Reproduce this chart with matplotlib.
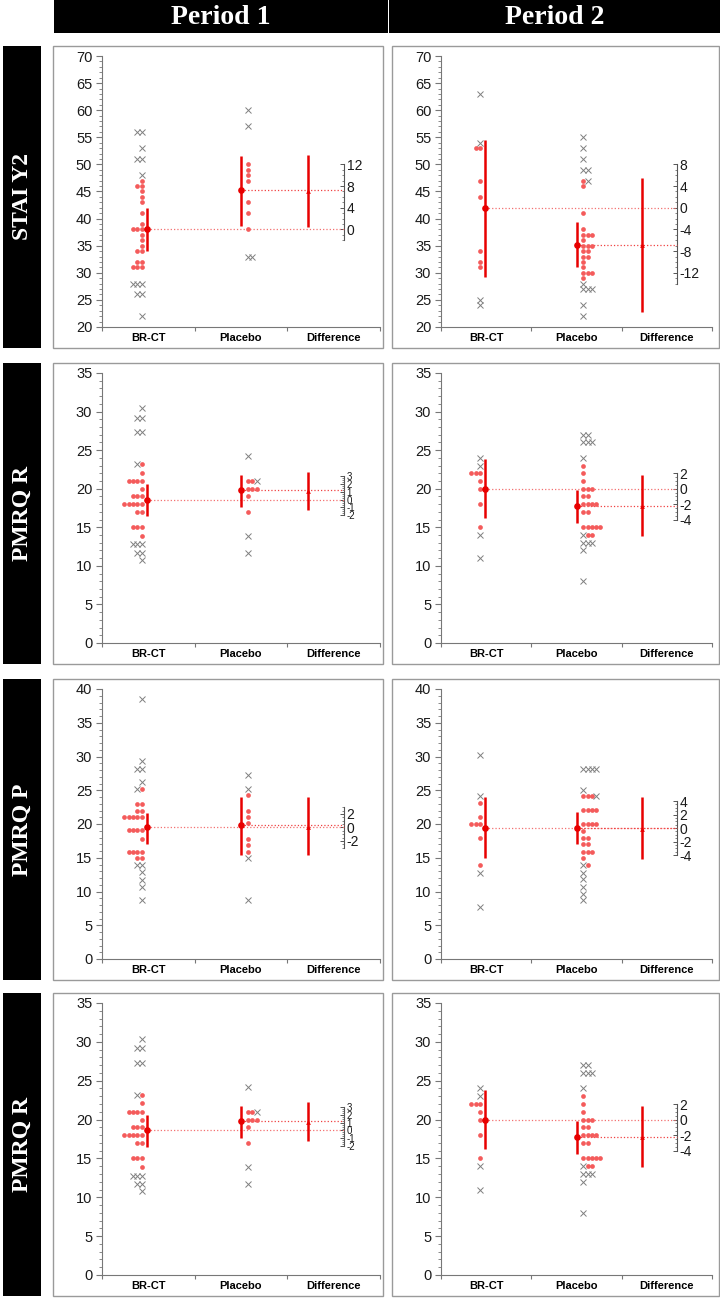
import numpy as np
import matplotlib
matplotlib.use("Agg")
import matplotlib.pyplot as plt
from matplotlib.patches import Rectangle
from matplotlib.ticker import MultipleLocator, FixedLocator, NullFormatter

plt.rcParams['font.family'] = ['Liberation Sans', 'DejaVu Sans']
plt.rcParams['axes.unicode_minus'] = False

# ---- data ----
periods = ["Period 1", "Period 2"]
measures = ["STAI Y2", "PMRQ R", "PMRQ P", "PMRQ R"]
categories = ["BR-CT", "Placebo", "Difference"]

# o = red dot, x = grey cross (same value -> stacked side by side)
stai_p1_brct = [56, 56, 53, 51, 51, 48, 47, 46, 46, 45, 44, 43, 41, 39, 38, 38, 38, 37, 36, 35,
                34, 34, 32, 32, 31, 31, 31, 28, 28, 28, 26, 26, 22]
stai_p1_brct_kind = "xxxxxx" + "o" * 21 + "xxxxxx"
stai_p1_pbo = [60, 57, 50, 49, 48, 47, 43, 41, 38, 33, 33]
stai_p1_pbo_kind = "xxoooooooxx"
stai_p1_mean = [38.0, 45.2, 7.0]
stai_p1_lo = [34.0, 38.6, 0.4]
stai_p1_hi = [41.9, 51.6, 13.8]

stai_p2_brct = [63, 54, 53, 53, 47, 44, 34, 32, 31, 25, 24]
stai_p2_brct_kind = "xxoooooooxx"
stai_p2_pbo = [55, 53, 51, 49, 49, 47, 47, 46, 41, 38, 37, 37, 37, 36, 35, 35, 35, 34, 34, 33, 33,
               32, 31, 30, 30, 30, 29, 28, 27, 27, 27, 24, 22]
stai_p2_pbo_kind = "xxxxxox" + "o" * 20 + "xxxxxx"
stai_p2_mean = [42.0, 35.2, -6.9]
stai_p2_lo = [29.3, 31.0, -19.2]
stai_p2_hi = [54.5, 39.3, 5.5]

pmrqr_p1_brct = [30.4, 29.2, 29.2, 27.3, 27.3, 23.2, 23.2, 22.1, 21, 21, 21, 21, 20, 19, 19, 19,
                 18, 18, 18, 18, 18, 17, 17, 15, 15, 15, 13.9, 12.8, 12.8, 12.8, 11.7, 11.7, 10.8]
pmrqr_p1_brct_kind = "xxxxxox" + "o" * 20 + "xxxxxx"
pmrqr_p1_pbo = [24.2, 21, 21, 21, 20, 20, 20, 19.1, 17, 13.9, 11.7]
pmrqr_p1_pbo_kind = "xooxoooooxx"
pmrqr_p1_mean = [18.6, 19.8, 1.1]
pmrqr_p1_lo = [16.5, 17.65, -1.4]
pmrqr_p1_hi = [20.6, 21.8, 3.6]

pmrqr_p2_brct = [24, 23, 22, 22, 22, 21, 20, 18, 15, 14, 11]
pmrqr_p2_brct_kind = "xxoooooooxx"
pmrqr_p2_pbo = [27, 27, 26, 26, 26, 24, 23, 22, 21, 20, 20, 20, 19, 19, 18, 18, 18, 18, 17, 17,
                15, 15, 15, 15, 15, 14, 14, 14, 13, 13, 13, 12, 8]
pmrqr_p2_pbo_kind = "xxxxxx" + "o" * 19 + "xoo" + "xxxxx"
pmrqr_p2_mean = [20.0, 17.8, -2.3]
pmrqr_p2_lo = [16.2, 15.6, -6.1]
pmrqr_p2_hi = [23.8, 19.8, 1.75]

pmrqp_p1_brct = [38.5, 29.4, 28.2, 28.2, 26.2, 25.2, 25.2, 22.9, 22.9, 22, 22, 21.1, 21.1, 21.1,
                 21.1, 21.1, 19.1, 19.1, 19.1, 19.1, 17.8, 15.9, 15.9, 15.9, 15.9, 14.9, 14.9,
                 13.9, 13.9, 12.9, 11.7, 10.6, 8.7]
pmrqp_p1_brct_kind = "xxxxxox" + "o" * 20 + "xxxxxx"
pmrqp_p1_pbo = [27.2, 25.2, 24.3, 22, 21.1, 20.1, 17.8, 16.9, 15.9, 14.9, 8.7]
pmrqp_p1_pbo_kind = "xxoooooooxx"
pmrqp_p1_mean = [19.5, 19.8, 0.1]
pmrqp_p1_lo = [17.1, 15.45, -4.05]
pmrqp_p1_hi = [21.7, 24.0, 4.5]

pmrqp_p2_brct = [30.2, 24.1, 23.1, 21, 20, 20, 20, 18, 13.9, 12.8, 7.7]
pmrqp_p2_brct_kind = "xxoooooooxx"
pmrqp_p2_pbo = [28.2, 28.2, 28.2, 28.2, 25.1, 24.1, 24.1, 24.1, 24.1, 22.1, 22.1, 22.1, 22.1,
                20, 20, 20, 20, 19, 18, 18, 17, 17, 15.8, 15.8, 15.8, 14.9, 13.9, 13.9,
                12.8, 11.9, 10.7, 9.7, 8.7]
pmrqp_p2_pbo_kind = "xxxxx" + "ooox" + "o" * 17 + "xo" + "xxxxx"
pmrqp_p2_mean = [19.4, 19.4, -0.2]
pmrqp_p2_lo = [14.9, 17.0, -4.6]
pmrqp_p2_hi = [24.0, 21.75, 4.6]

# y range of each row, and the difference-axis ticks of each panel
row_ylim = [(20, 70), (0, 35), (0, 40), (0, 35)]
diff_ticks = [[[0, 4, 8, 12], [-12, -8, -4, 0, 4, 8]],
              [[-2, -1, 0, 1, 2, 3], [-4, -2, 0, 2]],
              [[-2, 0, 2], [-4, -2, 0, 2, 4]],
              [[-2, -1, 0, 1, 2, 3], [-4, -2, 0, 2]]]
diff_span = [[(-2, 12), (-14, 8)], [(-2, 3), (-4, 2)], [(-3, 3), (-4, 4)], [(-2, 3), (-4, 2)]]
diff_minor = [[1, 1], [0.25, 0.5], [0.5, 0.5], [0.25, 0.5]]

panels = [
    [(stai_p1_brct, stai_p1_brct_kind, stai_p1_pbo, stai_p1_pbo_kind, stai_p1_mean, stai_p1_lo, stai_p1_hi),
     (stai_p2_brct, stai_p2_brct_kind, stai_p2_pbo, stai_p2_pbo_kind, stai_p2_mean, stai_p2_lo, stai_p2_hi)],
    [(pmrqr_p1_brct, pmrqr_p1_brct_kind, pmrqr_p1_pbo, pmrqr_p1_pbo_kind, pmrqr_p1_mean, pmrqr_p1_lo, pmrqr_p1_hi),
     (pmrqr_p2_brct, pmrqr_p2_brct_kind, pmrqr_p2_pbo, pmrqr_p2_pbo_kind, pmrqr_p2_mean, pmrqr_p2_lo, pmrqr_p2_hi)],
    [(pmrqp_p1_brct, pmrqp_p1_brct_kind, pmrqp_p1_pbo, pmrqp_p1_pbo_kind, pmrqp_p1_mean, pmrqp_p1_lo, pmrqp_p1_hi),
     (pmrqp_p2_brct, pmrqp_p2_brct_kind, pmrqp_p2_pbo, pmrqp_p2_pbo_kind, pmrqp_p2_mean, pmrqp_p2_lo, pmrqp_p2_hi)],
    [(pmrqr_p1_brct, pmrqr_p1_brct_kind, pmrqr_p1_pbo, pmrqr_p1_pbo_kind, pmrqr_p1_mean, pmrqr_p1_lo, pmrqr_p1_hi),
     (pmrqr_p2_brct, pmrqr_p2_brct_kind, pmrqr_p2_pbo, pmrqr_p2_pbo_kind, pmrqr_p2_mean, pmrqr_p2_lo, pmrqr_p2_hi)],
]

# ---- layout (pixels) ----
W, H = 720, 1299
col_x = [(53, 383), (392, 719)]
row_y = [(46, 348), (363, 664), (679, 980), (993, 1296)]
head_x = [(54, 388), (389, 720)]

DOT = '#f45b5b'
RED = '#e80000'
GREY = '#7f7f7f'
AXC = '#777777'
STEP = 0.047
X_DIFF_AXIS = 2.61


def fig_rect(x0, y0, x1, y1):
    return [x0 / W, 1 - y1 / H, (x1 - x0) / W, (y1 - y0) / H]


def stack_positions(vals, anchor, sign):
    seen = {}
    xs = []
    for v in vals:
        n = seen.get(v, 0)
        seen[v] = n + 1
        xs.append(anchor + sign * n * STEP)
    return np.array(xs)


def draw_panel(ax, data, ylim, ticks, span, minor, tick_fs):
    brct, brct_kind, pbo, pbo_kind, mean, lo, hi = data
    ref = mean[0]

    for vals, kind, anchor, sign in [(brct, brct_kind, 0.43, -1), (pbo, pbo_kind, 1.575, 1)]:
        xs = stack_positions(vals, anchor, sign)
        vals = np.array(vals, dtype=float)
        isdot = np.array([k == 'o' for k in kind])
        ax.plot(xs[isdot], vals[isdot], 'o', ms=3.4, color=DOT, mec='none', zorder=3)
        ax.plot(xs[~isdot], vals[~isdot], 'x', ms=3.8, color=GREY, mew=0.7, zorder=3)

    # reference lines to the difference axis
    ax.hlines(mean[0], 0.49, X_DIFF_AXIS, colors='#f37070', linestyles=':', lw=0.9, zorder=2)
    ax.hlines(mean[1], 1.50, X_DIFF_AXIS, colors='#f04040', linestyles=':', lw=0.9, zorder=2)

    # means with CIs
    ax.vlines([0.49, 1.50], lo[:2], hi[:2], colors=RED, lw=1.8, zorder=4)
    ax.plot([0.49, 1.50], mean[:2], 'o', ms=4.8, color=RED, mec='none', zorder=5)
    ax.vlines(2.22, ref + lo[2], ref + hi[2], colors=RED, lw=1.8, zorder=4)
    ax.plot(2.22, ref + mean[2], '^', ms=3.4, color=RED, mec='none', zorder=5)

    ax.set_xlim(0, 3)
    ax.set_ylim(*ylim)
    ax.set_xticks([0, 1, 2, 3])
    ax.xaxis.set_major_formatter(NullFormatter())
    ax.set_xticks([0.5, 1.5, 2.5], categories, minor=True)
    ax.tick_params(axis='x', which='minor', length=0, labelsize=8, pad=4)
    for lab in ax.get_xticklabels(minor=True):
        lab.set_fontweight('bold')
    ax.tick_params(axis='x', which='major', length=3, color=AXC, width=0.8)
    ax.yaxis.set_major_locator(MultipleLocator(5))
    ax.yaxis.set_minor_locator(MultipleLocator(1))
    ax.tick_params(axis='y', which='major', length=4, color=AXC, width=0.8, labelsize=10.5,
                   pad=3, labelcolor='#1a1a1a')
    ax.tick_params(axis='y', which='minor', length=2, color=AXC, width=0.6)
    for s in ['top', 'right']:
        ax.spines[s].set_visible(False)
    for s in ['left', 'bottom']:
        ax.spines[s].set_color(AXC)
        ax.spines[s].set_linewidth(0.8)

    # difference axis: 0 at the BR-CT mean
    sec = ax.secondary_yaxis(X_DIFF_AXIS / 3, functions=(lambda y: y - ref, lambda d: d + ref))
    sec.yaxis.set_major_locator(FixedLocator(ticks))
    sec.yaxis.set_minor_locator(FixedLocator(np.arange(span[0], span[1] + 1e-6, minor)))
    sec.spines['right'].set_bounds(span[0], span[1])
    sec.spines['right'].set_color('#555555')
    sec.spines['right'].set_linewidth(0.8)
    sec.tick_params(axis='y', which='major', direction='in', length=3, color='#555555',
                    width=0.7, labelsize=tick_fs, pad=2, labelcolor='#1a1a1a')
    sec.tick_params(axis='y', which='minor', direction='in', length=1.5, color='#555555', width=0.5)


fig = plt.figure(figsize=(W / 100, H / 100), dpi=100)

# column headers
for (x0, x1), name in zip(head_x, periods):
    fig.add_artist(Rectangle((x0 / W, 1 - 33 / H), (x1 - x0) / W, 33 / H,
                             transform=fig.transFigure, facecolor='black', edgecolor='none'))
    fig.text((x0 + x1) / 2 / W, 1 - 17 / H, name, color='white', fontsize=20,
             fontweight='bold', family='Liberation Serif', ha='center', va='center')

for r, (y0, y1) in enumerate(row_y):
    # row label
    fig.add_artist(Rectangle((3 / W, 1 - y1 / H), 38 / W, (y1 - y0) / H,
                             transform=fig.transFigure, facecolor='black', edgecolor='none'))
    fig.text(22 / W, 1 - (y0 + y1) / 2 / H, measures[r], color='white', fontsize=17,
             fontweight='bold', family='Liberation Serif', ha='center', va='center', rotation=90)
    for c, (x0, x1) in enumerate(col_x):
        fig.add_artist(Rectangle((x0 / W, 1 - y1 / H), (x1 - x0) / W, (y1 - y0) / H,
                                 transform=fig.transFigure, facecolor='white',
                                 edgecolor='#9a9a9a', lw=1.0, zorder=0))
        ax = fig.add_axes(fig_rect(x0 + 49, y0 + 10, x1 - (3 if c == 0 else 7), y1 - 21))
        ax.patch.set_alpha(0)
        fs = 7 if diff_minor[r][c] == 0.25 else 10
        draw_panel(ax, panels[r][c], row_ylim[r], diff_ticks[r][c], diff_span[r][c],
                   diff_minor[r][c], fs)

fig.savefig("out.png", dpi=100)
